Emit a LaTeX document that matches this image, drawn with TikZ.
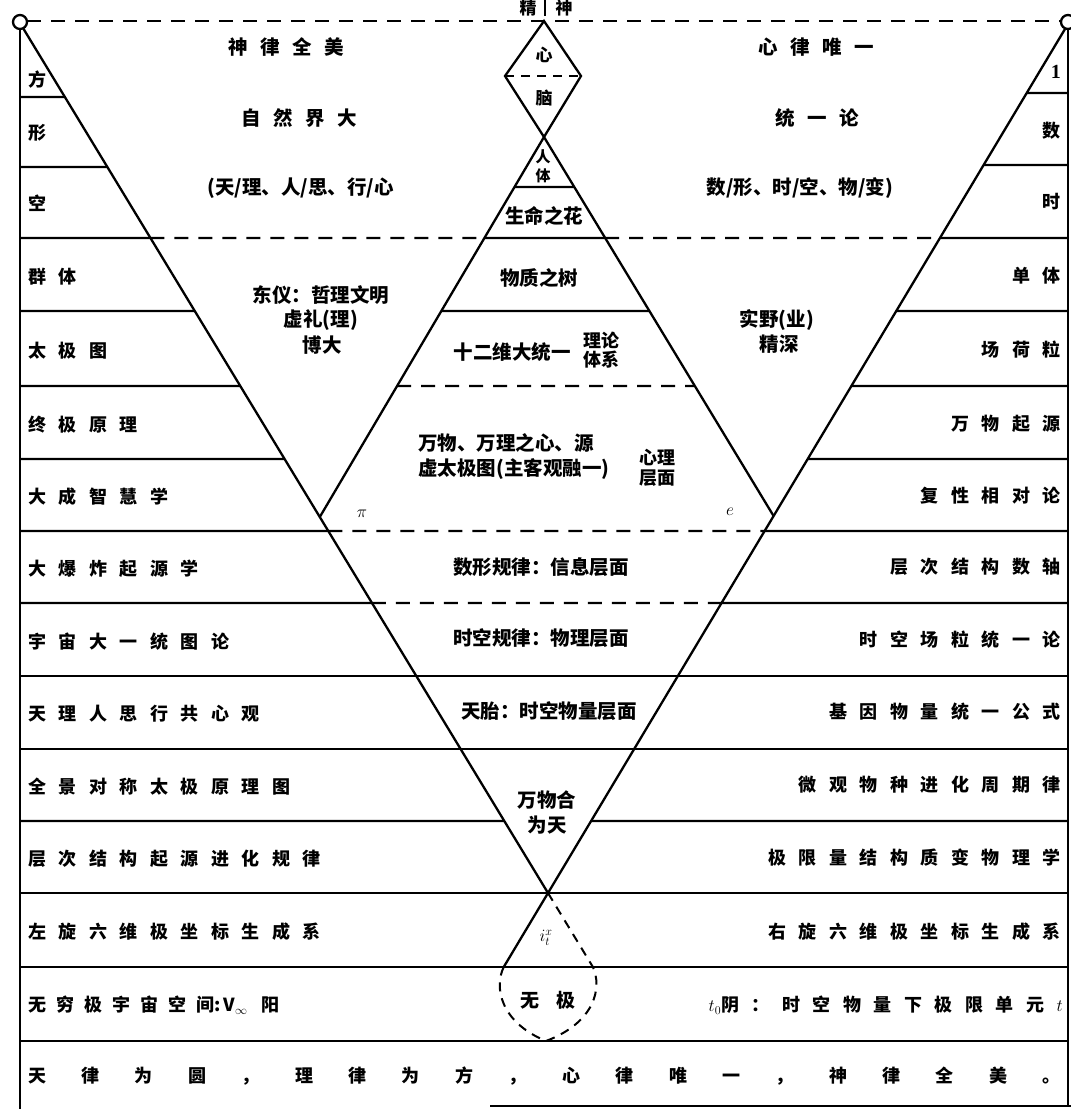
\documentclass[tikz,border=0pt]{standalone}
\usepackage{fontspec}
\setmainfont{Noto Sans CJK SC}
\newfontfamily\seriffont{Liberation Serif}
\usetikzlibrary{calc}
\begin{document}
\begin{tikzpicture}[x=1pt,y=-1pt,
  ln/.style={line width=2.3pt},
  dsh/.style={line width=2.3pt,dash pattern=on 14pt off 10pt},
  dshs/.style={line width=2pt,dash pattern=on 9pt off 7pt},
  gap/.style={execute at begin node={\spaceskip=#1\relax}},
  lft/.style={anchor=west,inner sep=0pt,font=\fontsize{18}{18}\selectfont\bfseries,gap=12.5pt},
  rgt/.style={anchor=east,inner sep=0pt,font=\fontsize{18}{18}\selectfont\bfseries,gap=12.5pt},
  ct/.style={inner sep=0pt,font=\fontsize{19.5}{23}\selectfont\bfseries,gap=12.5pt},
  ctm/.style={inner sep=0pt,align=center,font=\fontsize{19.5}{25}\selectfont\bfseries},
  sm/.style={inner sep=0pt,font=\fontsize{17}{19}\selectfont\bfseries}]
\useasboundingbox (0,0) rectangle (1071,1109);
% key points
\coordinate (LT) at (23,28);
\coordinate (RT) at (1065,29);
\coordinate (V) at (548,893);
\coordinate (A) at (544,137);
\coordinate (DT) at (544,21);
\coordinate (DL) at (505,76);
\coordinate (DR) at (581,76);
\coordinate (PL) at ($(LT)!{(517-28)/865}!(V)$);
\coordinate (PR) at ($(RT)!{(516-29)/864}!(V)$);
\foreach \y in {97,167,238,311,386,459,531,603,676,749,821,893,967}
  {\coordinate (L\y) at ($(LT)!{(\y-28)/865}!(V)$);}
\foreach \y in {93,165,238,311,386,459,531,603,676,749,821,893,967}
  {\coordinate (R\y) at ($(RT)!{(\y-29)/864}!(V)$);}
\foreach \y in {187,238,311,386}
  {\coordinate (IL\y) at ($(A)!{(\y-137)/380}!(PL)$);
   \coordinate (IR\y) at ($(A)!{(\y-137)/379}!(PR)$);}
% frame
\draw[ln] (20,22) circle (7pt);
\draw[ln] (1068,22) circle (7pt);
\draw[ln] (20,29) -- (20,1109);
\draw[ln] (1068,29) -- (1068,1106);
\draw[dsh] (27,21) -- (1061,21);
\draw[ln] (490,1106) -- (1071,1106);
% V and inner triangle
\draw[ln] (LT) -- (V) -- (RT);
\draw[ln] (DT) -- (DL) -- (A) -- (DR) -- cycle;
\draw[dshs] (DL) -- (DR);
\draw[ln] (PL) -- (A) -- (PR);
\draw[ln] (IL187) -- (IR187);
\draw[ln] (545,0) -- (545,16);
% left column top
\draw[ln] (20,97) -- (L97);
\draw[ln] (20,167) -- (L167);
\draw[ln] (R93) -- (1068,93);
\draw[ln] (R165) -- (1068,165);
% y = 238
\draw[ln] (20,238) -- (L238);
\draw[dsh] (L238) -- (IL238);
\draw[ln] (IL238) -- (IR238);
\draw[dsh] (IR238) -- (R238);
\draw[ln] (R238) -- (1068,238);
% y = 311
\draw[ln] (20,311) -- (L311);
\draw[ln] (IL311) -- (IR311);
\draw[ln] (R311) -- (1068,311);
% y = 386
\draw[ln] (20,386) -- (L386);
\draw[dsh] (IL386) -- (IR386);
\draw[ln] (R386) -- (1068,386);
% y = 459
\draw[ln] (20,459) -- (L459);
\draw[ln] (R459) -- (1068,459);
% y = 531, 603
\foreach \y in {531,603}{
  \draw[ln] (20,\y) -- (L\y);
  \draw[dsh] (L\y) -- (R\y);
  \draw[ln] (R\y) -- (1068,\y);}
% full lines
\foreach \y in {676,749,893,967,1041}
  {\draw[ln] (20,\y) -- (1068,\y);}
\draw[ln] (20,821) -- (L821);
\draw[ln] (R821) -- (1068,821);
% teardrop
\coordinate (T1) at ($(RT)!{(967-29)/864}!(V)$);
\coordinate (T2) at ($(LT)!{(967-28)/865}!(V)$);
\draw[ln] (V) -- (T1);
\draw[dshs] (V) -- (T2);
\draw[dshs] (T1) .. controls (494,987) and (500,1022) .. (546,1041)
  .. controls (596,1022) and (602,987) .. (T2);
% top labels
\node[sm] (jing) at (528,8) {精};
\node[sm] (shen0) at (564,8) {神};
\node[sm] (xin) at (544,55) {心};
\node[sm] (nao) at (544,98) {脑};
\node[inner sep=0pt,font=\fontsize{15}{15}\selectfont\bfseries] (ren) at (543,157) {人};
\node[inner sep=0pt,font=\fontsize{15}{15}\selectfont\bfseries] (ti) at (543,176) {体};
\node[ct] (shm) at (544,216) {生命之花};
\node[ct] (wzs) at (539,278) {物质之树};
\node[ct] (sew) at (512,352) {十二维大统一};
\node[ctm,font=\fontsize{18}{19}\selectfont\bfseries] (llt) at (601,350) {理论\\体系};
\node[ct,anchor=west] (wwu) at (418,443) {万物、万理之心、源};
\node[ct,anchor=west] (xtj) at (418,469) {虚太极图(主客观融一)};
\node[ctm,font=\fontsize{18}{20}\selectfont\bfseries] (xlc) at (657,468) {心理\\层面};
\node[inner sep=0pt,font=\fontsize{19}{19}\selectfont] (pi) at (362,514) {$\pi$};
\node[inner sep=0pt,font=\fontsize{19}{19}\selectfont] (ee) at (730,512) {$e$};
\node[ct] (dy) at (321,295) {东仪：哲理文明};
\node[ct] (xl) at (321,320) {虚礼(理)};
\node[ct] (bd) at (322,345) {博大};
\node[ct] (sy) at (777,320) {实野(业)};
\node[ct] (js) at (779,344) {精深};
\node[ct] (sxgl) at (541,567) {数形规律：信息层面};
\node[ct] (skgl) at (541,638) {时空规律：物理层面};
\node[ct] (ttai) at (549,711) {天胎：时空物量层面};
\node[ctm] (wwh) at (547,812) {万物合\\为天};
\node[inner sep=0pt,font=\fontsize{18}{18}\selectfont] (itx) at (546,938) {$i_t^x$};
\node[ct,font=\fontsize{19}{19}\selectfont\bfseries,gap=17pt] (wj) at (548,1000) {无 极};
\node[ct] (sl) at (286,47) {神 律 全 美};
\node[ct] (zr) at (299,118) {自 然 界 大};
\node[ct,anchor=west] (tl) at (207,188) {(天/理、人/思、行/心};
\node[ct] (xlw) at (816,47) {心 律 唯 一};
\node[ct] (tyl) at (817,118) {统 一 论};
\node[ct] (sxs) at (800,188) {数/形、时/空、物/变)};
% left labels
\node[lft] (a1) at (28,80) {方};
\node[lft] (a2) at (28,133) {形};
\node[lft] (a3) at (28,203) {空};
\node[lft] (a4) at (28,277) {群 体};
\node[lft] (a5) at (28,351) {太 极 图};
\node[lft] (a6) at (28,425) {终 极 原 理};
\node[lft] (a7) at (28,497) {大 成 智 慧 学};
\node[lft] (a8) at (28,569) {大 爆 炸 起 源 学};
\node[lft] (a9) at (28,642) {宇 宙 大 一 统 图 论};
\node[lft] (a10) at (28,714) {天 理 人 思 行 共 心 观};
\node[lft] (a11) at (28,787) {全 景 对 称 太 极 原 理 图};
\node[lft] (a12) at (28,859) {层 次 结 构 起 源 进 化 规 律};
\node[lft] (a13) at (28,932) {左 旋 六 维 极 坐 标 生 成 系};
\node[lft,gap=10pt] (a14) at (28,1005) {无 穷 极 宇 宙 空 间:\hspace{3pt}V$_{\infty}$\hspace{14pt}阳};
\node[lft,gap=35.4pt] (a15) at (28,1076) {天 律 为 圆 ， 理 律 为 方 ， 心 律 唯 一 ， 神 律 全 美 。};
% right labels
\node[rgt,font=\fontsize{20}{20}\seriffont\bfseries] (b1) at (1061,72) {1};
\node[rgt] (b2) at (1061,131) {数};
\node[rgt] (b3) at (1061,202) {时};
\node[rgt] (b4) at (1061,276) {单 体};
\node[rgt] (b5) at (1061,350) {场 荷 粒};
\node[rgt] (b6) at (1061,424) {万 物 起 源};
\node[rgt] (b7) at (1061,496) {复 性 相 对 论};
\node[rgt] (b8) at (1061,567) {层 次 结 构 数 轴};
\node[rgt] (b9) at (1061,640) {时 空 场 粒 统 一 论};
\node[rgt] (b10) at (1061,712) {基 因 物 量 统 一 公 式};
\node[rgt] (b11) at (1061,785) {微 观 物 种 进 化 周 期 律};
\node[rgt] (b12) at (1061,858) {极 限 量 结 构 质 变 物 理 学};
\node[rgt] (b13) at (1061,932) {右 旋 六 维 极 坐 标 生 成 系};
\node[rgt] (b14) at (1063,1005) {$t_0$阴 ： 时 空 物 量 下 极 限 单 元 $t$};
\end{tikzpicture}
\end{document}
